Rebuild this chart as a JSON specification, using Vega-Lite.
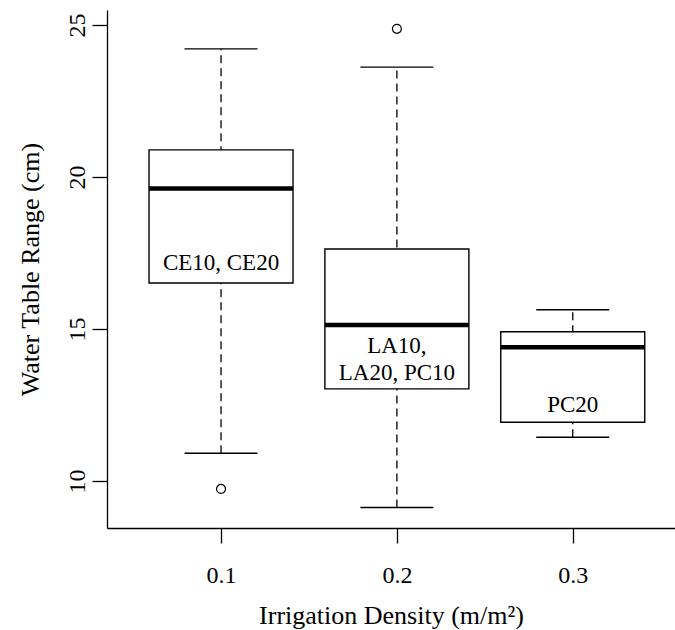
{
  "$schema": "https://vega.github.io/schema/vega-lite/v6.json",
  "autosize": {"type": "none"},
  "width": 568,
  "height": 518,
  "padding": {"left": 107, "top": 10, "right": 0, "bottom": 102},
  "background": "white",
  "config": {
    "view": {"stroke": null},
    "font": "Liberation Serif",
    "axis": {
      "grid": false,
      "domainColor": "#000000",
      "domainWidth": 1.3,
      "tickColor": "#000000",
      "tickWidth": 1.3,
      "tickSize": 15,
      "labelFont": "Liberation Serif",
      "labelFontSize": 24,
      "labelColor": "#000000",
      "titleFont": "Liberation Serif",
      "titleFontSize": 26,
      "titleFontWeight": "normal",
      "titleColor": "#000000"
    }
  },
  "datasets": {
    "boxes": [
      {"density": 0.1, "lower": 10.91, "q1": 16.51, "median": 19.62, "q3": 20.89, "upper": 24.21, "groups": "CE10, CE20", "labelAt": 17.17},
      {"density": 0.2, "lower": 9.13, "q1": 13.03, "median": 15.13, "q3": 17.63, "upper": 23.61, "groups": "LA10,\nLA20, PC10", "labelAt": 14.44},
      {"density": 0.3, "lower": 11.44, "q1": 11.93, "median": 14.40, "q3": 14.91, "upper": 15.63, "groups": "PC20", "labelAt": 12.5}
    ],
    "outliers": [
      {"density": 0.1, "value": 9.74},
      {"density": 0.2, "value": 24.87}
    ]
  },
  "layer": [
    {
      "data": {"name": "boxes"},
      "mark": {"type": "rule", "stroke": "#000000", "strokeWidth": 1.3, "strokeDash": [8, 5]},
      "encoding": {
        "x": {
          "field": "density",
          "type": "quantitative",
          "scale": {"domain": [0.038, 0.3553], "nice": false, "zero": false},
          "axis": {
            "values": [0.1, 0.2, 0.3],
            "format": ".1f",
            "title": "Irrigation Density (m/m²)",
            "labelPadding": 20,
            "titlePadding": 15
          }
        },
        "y": {
          "field": "lower",
          "type": "quantitative",
          "scale": {"domain": [8.454, 25.49], "nice": false, "zero": false},
          "axis": {
            "values": [10, 15, 20, 25],
            "title": "Water Table Range (cm)",
            "labelAngle": -90,
            "labelAlign": "center",
            "labelBaseline": "bottom",
            "labelPadding": 3,
            "titlePadding": 22
          }
        },
        "y2": {"field": "upper"}
      }
    },
    {
      "data": {"name": "boxes"},
      "mark": {"type": "bar", "orient": "vertical", "width": 144, "fill": "#ffffff", "stroke": "#000000", "strokeWidth": 1.4},
      "encoding": {
        "x": {"field": "density", "type": "quantitative"},
        "y": {"field": "q1", "type": "quantitative"},
        "y2": {"field": "q3"}
      }
    },
    {
      "data": {"name": "boxes"},
      "mark": {"type": "tick", "orient": "horizontal", "size": 144, "thickness": 4.5, "color": "#000000", "opacity": 1},
      "encoding": {
        "x": {"field": "density", "type": "quantitative"},
        "y": {"field": "median", "type": "quantitative"}
      }
    },
    {
      "data": {"name": "boxes"},
      "mark": {"type": "tick", "orient": "horizontal", "size": 73, "thickness": 1.4, "color": "#000000", "opacity": 1},
      "encoding": {
        "x": {"field": "density", "type": "quantitative"},
        "y": {"field": "upper", "type": "quantitative"}
      }
    },
    {
      "data": {"name": "boxes"},
      "mark": {"type": "tick", "orient": "horizontal", "size": 73, "thickness": 1.4, "color": "#000000", "opacity": 1},
      "encoding": {
        "x": {"field": "density", "type": "quantitative"},
        "y": {"field": "lower", "type": "quantitative"}
      }
    },
    {
      "data": {"name": "boxes"},
      "mark": {"type": "text", "font": "Liberation Serif", "fontSize": 23, "color": "#000000", "lineBreak": "\n", "lineHeight": 27, "align": "center", "baseline": "middle"},
      "encoding": {
        "x": {"field": "density", "type": "quantitative"},
        "y": {"field": "labelAt", "type": "quantitative"},
        "text": {"field": "groups"}
      }
    },
    {
      "data": {"name": "outliers"},
      "mark": {"type": "point", "shape": "circle", "filled": false, "size": 80, "stroke": "#000000", "strokeWidth": 1.2, "opacity": 1},
      "encoding": {
        "x": {"field": "density", "type": "quantitative"},
        "y": {"field": "value", "type": "quantitative"}
      }
    },
    {
      "mark": {"type": "rule", "stroke": "#000000", "strokeWidth": 1.3},
      "encoding": {"y": {"datum": 25.49}}
    }
  ]
}
